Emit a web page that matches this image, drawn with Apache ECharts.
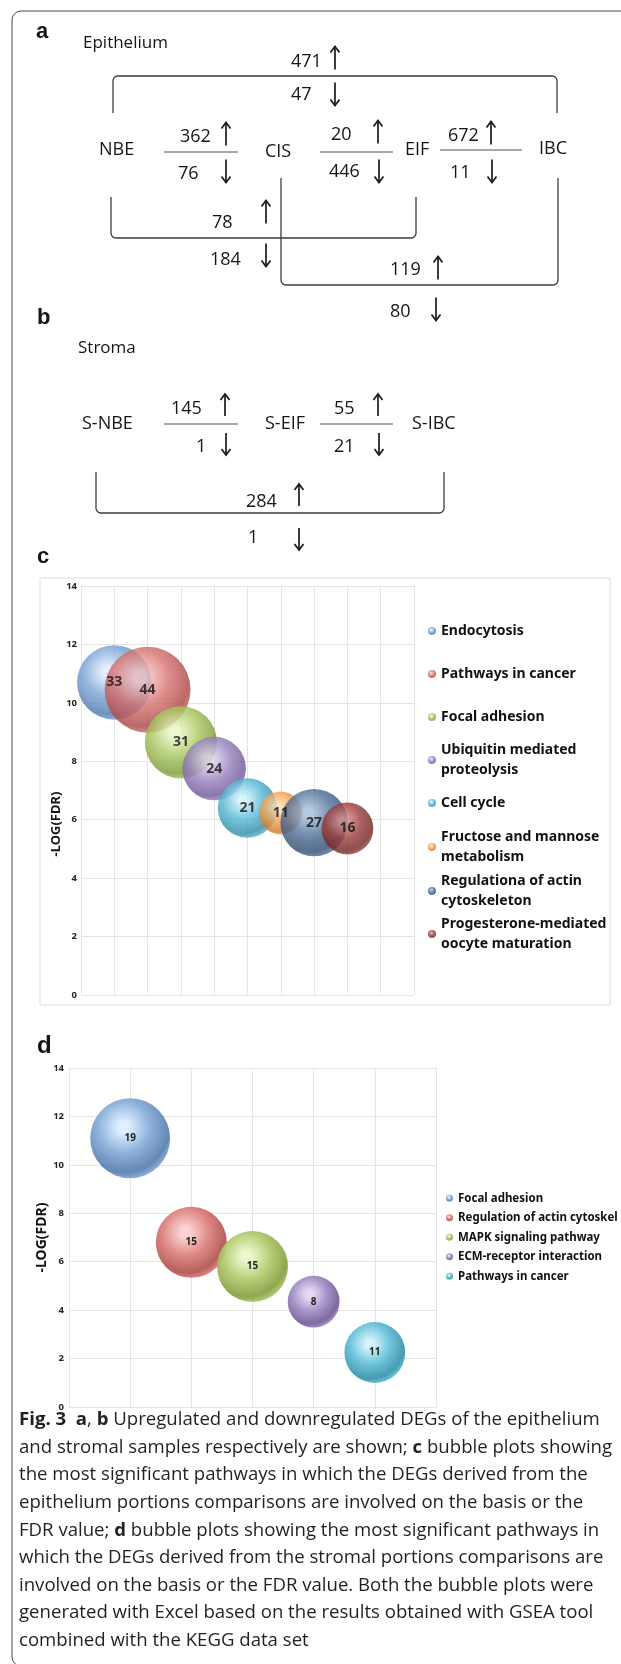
<!DOCTYPE html>
<html>
<head>
<meta charset="utf-8">
<script src="https://cdn.jsdelivr.net/npm/echarts@6/dist/echarts.min.js"></script>
<style>
html, body { margin: 0; padding: 0; background: #fff; }
#main { width: 621px; height: 1664px; }
</style>
</head>
<body>
<div id="main"></div>
<script>
// ---- panel a: epithelium comparisons ----
var epiNodes = ['NBE', 'CIS', 'EIF', 'IBC'];
// NBE-CIS, CIS-EIF, EIF-IBC, NBE-IBC, NBE-EIF, CIS-IBC
var epiUp = [362, 20, 672, 471, 78, 119];
var epiDown = [76, 446, 11, 47, 184, 80];

// ---- panel b: stroma comparisons ----
var stromaNodes = ['S-NBE', 'S-EIF', 'S-IBC'];
// S-NBE/S-EIF, S-EIF/S-IBC, S-NBE/S-IBC
var stromaUp = [145, 55, 284];
var stromaDown = [1, 21, 1];

// ---- panel c: epithelium pathways ----
var epiPathways = ['Endocytosis', 'Pathways in cancer', 'Focal adhesion', 'Ubiquitin mediated proteolysis',
  'Cell cycle', 'Fructose and mannose metabolism', 'Regulationa of actin cytoskeleton',
  'Progesterone-mediated oocyte maturation'];
var epiLegendText = ['Endocytosis', 'Pathways in cancer', 'Focal adhesion', 'Ubiquitin mediated\nproteolysis',
  'Cell cycle', 'Fructose and mannose\nmetabolism', 'Regulationa of actin\ncytoskeleton',
  'Progesterone-mediated\noocyte maturation'];
var epiGenes = [33, 44, 31, 24, 21, 11, 27, 16];
var epiLogFdr = [10.7, 10.45, 8.65, 7.75, 6.4, 6.23, 5.9, 5.7];

// ---- panel d: stroma pathways ----
var stromaPathways = ['Focal adhesion', 'Regulation of actin cytoskel', 'MAPK signaling pathway',
  'ECM-receptor interaction', 'Pathways in cancer'];
var stromaGenes = [19, 15, 15, 8, 11];
var stromaLogFdr = [11.1, 6.8, 5.8, 4.35, 2.25];

var captionLines = [
  '{b|Fig. 3}  {b|a}, {b|b} Upregulated and downregulated DEGs of the epithelium',
  'and stromal samples respectively are shown; {b|c} bubble plots showing',
  'the most significant pathways in which the DEGs derived from the',
  'epithelium portions comparisons are involved on the basis or the',
  'FDR value; {b|d} bubble plots showing the most significant pathways in',
  'which the DEGs derived from the stromal portions comparisons are',
  'involved on the basis or the FDR value. Both the bubble plots were',
  'generated with Excel based on the results obtained with GSEA tool',
  'combined with the KEGG data set'
];

// ---- layout (pixels) ----
var epiNodeX = [99, 265, 405, 539];
var epiNodeY = [150, 152, 150, 149];
var epiLinks = [[164, 238, 152], [320, 393, 152], [440, 522, 150]];
// [textLeft, textY, arrowX, arrowCenterY]
var epiUpPos = [[180, 137, 226, 134], [331, 135, 378, 132], [448, 136, 491, 133],
  [291, 62, 335, 58], [212, 223, 266, 212], [390, 270, 438, 268]];
var epiDownPos = [[178, 174, 226, 171], [329, 172, 379, 171], [450, 173, 492, 171],
  [291, 95, 335, 94], [210, 260, 266, 255], [390, 312, 436, 309]];
// [x1, x2, yEnds, yBar]
var epiBrackets = [[113, 557, 113, 76], [111, 416, 197, 238], [281, 558, 178, 285]];

var stromaNodeX = [82, 265, 412];
var stromaNodeY = 424;
var stromaLinks = [[164, 238, 424], [320, 393, 424]];
var stromaUpPos = [[171, 409, 225, 405], [334, 409, 378, 405], [246, 502, 299, 495]];
var stromaDownPos = [[196, 447, 226, 444], [334, 447, 379, 444], [248, 538, 299, 539]];
var stromaBrackets = [[96, 444, 472, 513]];

var epiLegendY = [631, 674, 717, 760, 803, 847, 891, 934];

// [base, highlight, shade]
var epiColors = [
  ['#79a2d4', '#dcecfc', '#4d78ad'],
  ['#d46f6c', '#f8c8c6', '#a84542'],
  ['#a6c65c', '#eaf6c4', '#7b9838'],
  ['#9880bf', '#e0d4f0', '#6c5794'],
  ['#55b8d4', '#cdf0fa', '#2f8aa6'],
  ['#f5a04f', '#fde0b8', '#c8772c'],
  ['#4e6f99', '#a4bcd8', '#2f4a6e'],
  ['#9a3c3a', '#d89090', '#6e2422']
];
var stromaColors = [
  ['#84abd8', '#ddeeff', '#5a7fae'],
  ['#dc7f7c', '#fbd0cf', '#b05553'],
  ['#b0cb6c', '#ecf7cc', '#86a043'],
  ['#a18cc4', '#e3d9f3', '#735f98'],
  ['#62bfd8', '#d2f2fb', '#3a93ad']
];

var INK = '#151515';
var FONT = 'Open Sans';

function ball(c) {
  return {
    type: 'radial', x: 0.42, y: 0.36, r: 0.66,
    colorStops: [
      {offset: 0, color: c[1]}, {offset: 0.1, color: c[1]},
      {offset: 0.5, color: c[0]}, {offset: 0.86, color: c[2]}, {offset: 1, color: c[0]}
    ]
  };
}

function txt(x, y, s, o) {
  o = o || {};
  var align = o.align || 'left', va = o.va || 'middle';
  return {
    type: 'text', x: x, y: y, z: 5, rotation: o.rotation || 0,
    style: {
      text: s, fontSize: o.size || 18, fontFamily: o.family || FONT, fontWeight: o.weight || 'normal',
      fill: o.color || INK, align: align, verticalAlign: va, textAlign: align, textVerticalAlign: va,
      rich: o.rich
    }
  };
}

function arrow(x, cy, up, len) {
  var h = len / 2, tip = up ? cy - h : cy + h, d = up ? 6 : -6;
  return {
    type: 'group', z: 5, children: [
      {type: 'line', shape: {x1: x, y1: cy - h, x2: x, y2: cy + h}, style: {stroke: '#1b1b1b', lineWidth: 1.7}},
      {type: 'polyline', shape: {points: [[x - 4.5, tip + d], [x, tip], [x + 4.5, tip + d]]},
        style: {stroke: '#1b1b1b', lineWidth: 1.7, fill: null}}
    ]
  };
}

function bracket(b) {
  var x1 = b[0], x2 = b[1], yEnd = b[2], yBar = b[3], r = 5;
  var s = yBar > yEnd ? 1 : -1, cy = yBar - s * r;
  var pts = [[x1, yEnd]], k, a;
  for (k = 0; k <= 6; k++) {
    a = Math.PI - Math.PI / 2 * k / 6;
    pts.push([x1 + r + r * Math.cos(a), cy + s * r * Math.sin(a)]);
  }
  for (k = 0; k <= 6; k++) {
    a = Math.PI / 2 - Math.PI / 2 * k / 6;
    pts.push([x2 - r + r * Math.cos(a), cy + s * r * Math.sin(a)]);
  }
  pts.push([x2, yEnd]);
  return {type: 'polyline', z: 5, shape: {points: pts}, style: {stroke: '#3c3c3c', lineWidth: 1.3, fill: null}};
}

function link(l) {
  return {type: 'line', z: 5, shape: {x1: l[0], y1: l[2], x2: l[1], y2: l[2]},
    style: {stroke: '#8c8c8c', lineWidth: 1.6}};
}

var g = [];
// outer frame
g.push({type: 'rect', z: 1, shape: {x: 12, y: 11, width: 700, height: 1655, r: 9},
  style: {stroke: '#4a4a4a', lineWidth: 1, fill: null}});
// panel letters
g.push(txt(36, 32, 'a', {size: 22, weight: 'bold', family: 'Liberation Sans'}));
g.push(txt(37, 318, 'b', {size: 22, weight: 'bold', family: 'Liberation Sans'}));
g.push(txt(37, 557, 'c', {size: 22, weight: 'bold', family: 'Liberation Sans'}));
g.push(txt(37, 1046, 'd', {size: 24, weight: 'bold', family: 'Liberation Sans'}));
g.push(txt(83, 43, 'Epithelium', {size: 17}));
g.push(txt(78, 348, 'Stroma', {size: 17}));

epiNodes.forEach(function (n, i) { g.push(txt(epiNodeX[i], epiNodeY[i], n)); });
epiLinks.forEach(function (l) { g.push(link(l)); });
epiBrackets.forEach(function (b) { g.push(bracket(b)); });
epiUp.forEach(function (v, i) {
  var p = epiUpPos[i];
  g.push(txt(p[0], p[1], String(v)));
  g.push(arrow(p[2], p[3], true, 23));
});
epiDown.forEach(function (v, i) {
  var p = epiDownPos[i];
  g.push(txt(p[0], p[1], String(v)));
  g.push(arrow(p[2], p[3], false, 23));
});

stromaNodes.forEach(function (n, i) { g.push(txt(stromaNodeX[i], stromaNodeY, n)); });
stromaLinks.forEach(function (l) { g.push(link(l)); });
stromaBrackets.forEach(function (b) { g.push(bracket(b)); });
stromaUp.forEach(function (v, i) {
  var p = stromaUpPos[i];
  g.push(txt(p[0], p[1], String(v)));
  g.push(arrow(p[2], p[3], true, 22));
});
stromaDown.forEach(function (v, i) {
  var p = stromaDownPos[i];
  g.push(txt(p[0], p[1], String(v)));
  g.push(arrow(p[2], p[3], false, 22));
});

// chart c frame and axis title
g.push({type: 'rect', z: 0, shape: {x: 40, y: 578, width: 570, height: 427},
  style: {stroke: '#dcdcdc', lineWidth: 1, fill: null}});
g.push(txt(56, 824, '-LOG(FDR)', {size: 13, weight: 'bold', family: 'Noto Sans', align: 'center', rotation: Math.PI / 2}));

// caption
captionLines.forEach(function (line, i) {
  g.push(txt(19, 1420 + i * 27.6, line, {size: 18.6, color: '#231f20',
    rich: {b: {fontSize: 18.6, fontFamily: FONT, fontWeight: 'bold', fill: '#231f20'}}}));
});

var series = [];
epiPathways.forEach(function (name, i) {
  series.push({
    type: 'scatter', name: name, xAxisIndex: 0, yAxisIndex: 0,
    data: [[i + 1, epiLogFdr[i], epiGenes[i]]],
    symbolSize: function (v) { return 12.96 * Math.sqrt(v[2]); },
    itemStyle: {color: ball(epiColors[i]), opacity: 0.8},
    emphasis: {disabled: true}
  });
});
// gene-count labels drawn above all bubbles of chart c
series.push({
  type: 'scatter', name: 'epi-labels', xAxisIndex: 0, yAxisIndex: 0, silent: true,
  data: epiGenes.map(function (v, i) { return [i + 1, epiLogFdr[i], v]; }),
  symbolSize: 1, itemStyle: {color: 'rgba(0,0,0,0)'},
  label: {show: true, position: 'inside', formatter: function (p) { return p.value[2]; },
    fontSize: 14, fontWeight: 'bold', color: '#111', fontFamily: 'Noto Sans'},
  emphasis: {disabled: true}
});
stromaPathways.forEach(function (name, i) {
  series.push({
    type: 'scatter', name: 'stroma: ' + name, xAxisIndex: 1, yAxisIndex: 1,
    data: [[i + 1, stromaLogFdr[i], stromaGenes[i]]],
    symbolSize: function (v) { return 18.34 * Math.sqrt(v[2]); },
    itemStyle: {color: ball(stromaColors[i]), opacity: 0.93},
    label: {show: true, position: 'inside', formatter: function (p) { return p.value[2]; },
      fontSize: 10, fontWeight: 'bold', color: '#111', fontFamily: 'Noto Sans'},
    emphasis: {disabled: true}
  });
});

var legends = epiPathways.map(function (name, i) {
  var wrapped = epiLegendText[i].indexOf('\n') >= 0;
  return {
    data: [name], orient: 'vertical', left: 428, top: epiLegendY[i] - (wrapped ? 30 : 10),
    padding: 0, itemWidth: 8, itemHeight: 8, icon: 'circle', selectedMode: false,
    formatter: function () { return epiLegendText[i]; },
    textStyle: {fontFamily: 'Noto Sans', fontWeight: 'bold', fontSize: 14, color: '#111',
      lineHeight: 20, padding: wrapped ? [20, 0, 0, 0] : 0}
  };
});
legends.push({
  data: stromaPathways.map(function (n) { return 'stroma: ' + n; }),
  orient: 'vertical', left: 446, top: 1191, padding: 0, itemGap: 5,
  itemWidth: 7, itemHeight: 7, icon: 'circle', selectedMode: false,
  formatter: function (n) { return n.replace('stroma: ', ''); },
  textStyle: {fontFamily: 'Noto Sans', fontWeight: 'bold', fontSize: 11.5, color: '#111', lineHeight: 14.5}
});

var gridLine = {lineStyle: {color: '#e4e4e4', width: 1}};
var tickLabel = {fontFamily: 'Noto Sans', fontWeight: 'bold', fontSize: 9.5, color: '#222'};

var chart = echarts.init(document.getElementById('main'));
chart.setOption({
  animation: false,
  backgroundColor: '#fff',
  grid: [
    {left: 81, top: 586, width: 333, height: 409},
    {left: 69, top: 1068, width: 367, height: 339}
  ],
  xAxis: [
    {gridIndex: 0, type: 'value', min: 0, max: 10, interval: 1, axisLine: {show: false},
      axisTick: {show: false}, axisLabel: {show: false}, splitLine: gridLine},
    {gridIndex: 1, type: 'value', min: 0, max: 6, interval: 1, axisLine: {show: false},
      axisTick: {show: false}, axisLabel: {show: false}, splitLine: gridLine}
  ],
  yAxis: [
    {gridIndex: 0, type: 'value', min: 0, max: 14, interval: 2, axisLine: {show: false},
      axisTick: {show: false}, axisLabel: Object.assign({margin: 4}, tickLabel), splitLine: gridLine},
    {gridIndex: 1, type: 'value', min: 0, max: 14, interval: 2, axisLine: {show: false},
      axisTick: {show: false}, axisLabel: Object.assign({margin: 5}, tickLabel), splitLine: gridLine,
      name: '-LOG(FDR)', nameLocation: 'middle', nameGap: 20, nameRotate: 90, nameMoveOverlap: false,
      nameTextStyle: {fontFamily: 'Noto Sans', fontWeight: 'bold', fontSize: 14, color: '#111'}}
  ],
  legend: legends,
  graphic: {elements: g},
  series: series
});
</script>
</body>
</html>
